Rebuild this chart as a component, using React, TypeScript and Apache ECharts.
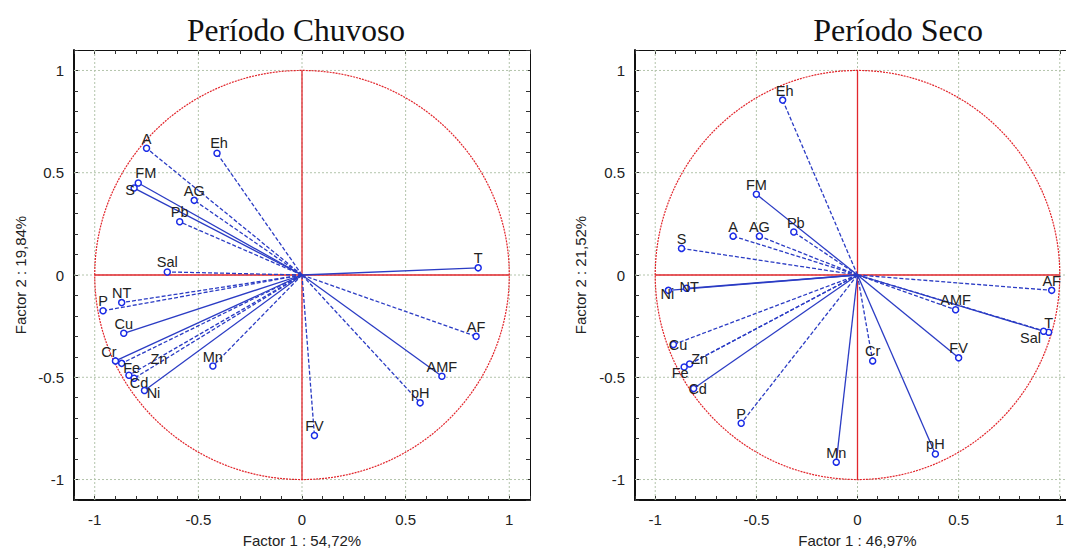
import React, { useEffect, useRef } from "react";
import * as echarts from "echarts";

// ---------- data ----------
const tickLabels = [-1, -0.5, 0, 0.5, 1];
const axisMin = -1.1;
const axisMax = 1.1;

const chuvNames = ["A", "Eh", "FM", "S", "AG", "Pb", "Sal", "NT", "P", "Cu", "Cr", "Fe", "Zn", "Cd", "Ni", "Mn", "FV", "T", "AF", "AMF", "pH"];
const chuvF1 = [-0.75, -0.41, -0.79, -0.81, -0.52, -0.59, -0.65, -0.87, -0.96, -0.86, -0.9, -0.87, -0.835, -0.81, -0.76, -0.43, 0.06, 0.85, 0.84, 0.675, 0.57];
const chuvF2 = [0.62, 0.595, 0.45, 0.425, 0.365, 0.26, 0.015, -0.135, -0.175, -0.285, -0.42, -0.432, -0.49, -0.505, -0.565, -0.445, -0.785, 0.035, -0.3, -0.495, -0.625];
const chuvDashed = [true, true, false, false, true, true, true, true, true, false, false, true, true, true, false, true, true, false, true, false, true];

const secoNames = ["Eh", "FM", "Pb", "A", "AG", "S", "NT", "Ni", "Cu", "Zn", "Fe", "Cd", "P", "Mn", "Cr", "FV", "pH", "AF", "AMF", "T", "Sal"];
const secoF1 = [-0.37, -0.5, -0.315, -0.615, -0.485, -0.87, -0.845, -0.935, -0.91, -0.83, -0.857, -0.81, -0.575, -0.105, 0.075, 0.5, 0.385, 0.96, 0.485, 0.945, 0.92];
const secoF2 = [0.855, 0.395, 0.21, 0.19, 0.19, 0.13, -0.065, -0.075, -0.34, -0.435, -0.45, -0.555, -0.725, -0.915, -0.42, -0.405, -0.875, -0.075, -0.17, -0.28, -0.275];
const secoDashed = [true, false, true, true, true, true, false, false, true, true, true, false, true, false, true, false, false, true, true, true, false];

// ---------- styles ----------
const labelDefault: [number, number] = [0, -9.5];
const chuvLabelOffset: Record<string, [number, number]> = {
  FM: [7.5, -9.5],
  S: [-4, 2],
  Cr: [-6.5, -9],
  Fe: [10, 5],
  Zn: [30, -16],
  Cd: [5, 5],
  Ni: [9, 2],
  Eh: [2, -10],
};
const secoLabelOffset: Record<string, [number, number]> = {
  Eh: [2, -9.5],
  Pb: [2, -9],
  NT: [2.5, -1],
  Ni: [-1, 4],
  Cu: [4.5, 0],
  Zn: [10, -5],
  Fe: [-4, 6],
  Cd: [4, 0],
  Sal: [-13, 7],
};

const SANS = "Liberation Sans, Arial, sans-serif";
const TEXT = "#222";
const BLUE_LINE = "#2b3cc4";
const BLUE_MARK = "#1a2be6";
const RED = "#e2262c";
const GRID = "#b3c4ab";

function App() {
  const ref = useRef<HTMLDivElement>(null);

  useEffect(() => {
    if (!ref.current) return;
    const chart = echarts.init(ref.current, undefined, { renderer: "svg" });

    const fmt = (v: number) => {
      for (const t of tickLabels) if (Math.abs(v - t) < 1e-6) return String(t);
      return "";
    };

    const makeX = (grid: number, pos: "bottom" | "top", name: string) => ({
      type: "value",
      gridIndex: grid,
      position: pos,
      min: axisMin,
      max: axisMax,
      interval: 0.1,
      name: pos === "bottom" ? name : "",
      nameLocation: "middle",
      nameGap: 33,
      nameTextStyle: { fontSize: 15, fontFamily: SANS, color: TEXT },
      axisLine: { show: true, onZero: false, lineStyle: { color: "#111", width: pos === "bottom" ? 2 : 1 } },
      axisTick: { show: true, inside: true, length: 4, lineStyle: { color: "#333" } },
      axisLabel: { show: pos === "bottom", formatter: fmt, fontSize: 15, fontFamily: SANS, color: TEXT, margin: 12 },
      splitLine: { show: false },
    });
    const makeY = (grid: number, pos: "left" | "right", name: string, gap: number) => ({
      type: "value",
      gridIndex: grid,
      position: pos,
      min: axisMin,
      max: axisMax,
      interval: 0.1,
      name: pos === "left" ? name : "",
      nameLocation: "middle",
      nameGap: gap,
      nameRotate: 90,
      nameTextStyle: { fontSize: 15, fontFamily: SANS, color: TEXT },
      axisLine: { show: true, onZero: false, lineStyle: { color: "#111", width: pos === "left" ? 2 : 1 } },
      axisTick: { show: true, inside: true, length: 4, lineStyle: { color: "#333" } },
      axisLabel: { show: pos === "left", formatter: fmt, fontSize: 15, fontFamily: SANS, color: TEXT, margin: 10 },
      splitLine: { show: false },
    });

    const gridSeries = (axis: number) => ({
      type: "custom",
      xAxisIndex: axis,
      yAxisIndex: axis,
      silent: true,
      z: 1,
      data: tickLabels.map((t) => [t, t]),
      renderItem: (_p: any, api: any) => {
        const v = api.value(0);
        const a = api.coord([v, axisMin]);
        const b = api.coord([v, axisMax]);
        const c = api.coord([axisMin, v]);
        const d = api.coord([axisMax, v]);
        const st = { stroke: GRID, lineWidth: 1, lineDash: [2, 2], fill: null };
        return {
          type: "group",
          children: [
            { type: "line", shape: { x1: a[0], y1: a[1], x2: b[0], y2: b[1] }, style: st },
            { type: "line", shape: { x1: c[0], y1: c[1], x2: d[0], y2: d[1] }, style: st },
          ],
        };
      },
    });

    const circleSeries = (axis: number) => ({
      type: "custom",
      xAxisIndex: axis,
      yAxisIndex: axis,
      silent: true,
      z: 2,
      data: [[0, 0]],
      renderItem: (_p: any, api: any) => {
        const o = api.coord([0, 0]);
        const l = api.coord([-1, 0]);
        const r = api.coord([1, 0]);
        const t = api.coord([0, 1]);
        const b = api.coord([0, -1]);
        return {
          type: "group",
          children: [
            {
              type: "ellipse",
              shape: { cx: o[0], cy: o[1], rx: (r[0] - l[0]) / 2, ry: (b[1] - t[1]) / 2 },
              style: { fill: null, stroke: RED, lineWidth: 1.2, lineDash: [2, 1] },
            },
            { type: "line", shape: { x1: l[0], y1: l[1], x2: r[0], y2: r[1] }, style: { stroke: RED, lineWidth: 1.3 } },
            { type: "line", shape: { x1: t[0], y1: t[1], x2: b[0], y2: b[1] }, style: { stroke: RED, lineWidth: 1.3 } },
          ],
        };
      },
    });

    const vectorLines = (axis: number, f1: number[], f2: number[], dashed: boolean[]) => ({
      type: "custom",
      xAxisIndex: axis,
      yAxisIndex: axis,
      silent: true,
      z: 3,
      encode: { x: 0, y: 1 },
      data: f1.map((x, i) => [x, f2[i], i]),
      renderItem: (_p: any, api: any) => {
        const o = api.coord([0, 0]);
        const p = api.coord([api.value(0), api.value(1)]);
        const i = api.value(2);
        return {
          type: "line",
          shape: { x1: o[0], y1: o[1], x2: p[0], y2: p[1] },
          style: { stroke: BLUE_LINE, lineWidth: 1.3, lineDash: dashed[i] ? [4, 2] : null, fill: null },
        };
      },
    });

    const vectorMarks = (axis: number, f1: number[], f2: number[], names: string[], offs: Record<string, [number, number]>) => ({
      type: "custom",
      xAxisIndex: axis,
      yAxisIndex: axis,
      silent: true,
      z: 4,
      encode: { x: 0, y: 1 },
      data: f1.map((x, i) => [x, f2[i], i]),
      renderItem: (_p: any, api: any) => {
        const p = api.coord([api.value(0), api.value(1)]);
        const name = names[api.value(2)];
        const off = offs[name] || labelDefault;
        return {
          type: "group",
          children: [
            {
              type: "circle",
              shape: { cx: p[0], cy: p[1], r: 3 },
              style: { fill: "#fff", stroke: BLUE_MARK, lineWidth: 1.5 },
            },
            {
              type: "text",
              x: p[0] + off[0],
              y: p[1] + off[1],
              style: {
                text: name,
                fontSize: 14.5,
                fontFamily: SANS,
                fill: TEXT,
                textAlign: "center",
                textVerticalAlign: "middle",
                align: "center",
                verticalAlign: "middle",
              },
            },
          ],
        };
      },
    });

    chart.setOption({
      animation: false,
      backgroundColor: "#ffffff",
      grid: [
        { left: 74, top: 50, width: 456, height: 450, containLabel: false, outerBoundsMode: "none" },
        { left: 635, top: 50, width: 445, height: 450, containLabel: false, outerBoundsMode: "none" },
      ],
      xAxis: [
        makeX(0, "bottom", "Factor 1 : 54,72%"),
        makeX(0, "top", ""),
        makeX(1, "bottom", "Factor 1 : 46,97%"),
        makeX(1, "top", ""),
      ],
      yAxis: [
        makeY(0, "left", "Factor 2 : 19,84%", 46),
        makeY(0, "right", "", 46),
        makeY(1, "left", "Factor 2 : 21,52%", 47),
        makeY(1, "right", "", 47),
      ],
      graphic: [
        {
          type: "text",
          x: 296,
          y: 30,
          style: {
            text: "Período Chuvoso",
            font: "31.5px 'Liberation Serif', 'Times New Roman', serif",
            fill: "#111",
            textAlign: "center",
            textVerticalAlign: "middle",
          },
        },
        {
          type: "text",
          x: 898,
          y: 30,
          style: {
            text: "Período Seco",
            font: "32px 'Liberation Serif', 'Times New Roman', serif",
            fill: "#111",
            textAlign: "center",
            textVerticalAlign: "middle",
          },
        },
      ],
      series: [
        gridSeries(0),
        circleSeries(0),
        vectorLines(0, chuvF1, chuvF2, chuvDashed),
        vectorMarks(0, chuvF1, chuvF2, chuvNames, chuvLabelOffset),
        gridSeries(2),
        circleSeries(2),
        vectorLines(2, secoF1, secoF2, secoDashed),
        vectorMarks(2, secoF1, secoF2, secoNames, secoLabelOffset),
      ],
    });

    return () => chart.dispose();
  }, []);

  return (
    <div
      ref={ref}
      style={{ position: "fixed", left: 0, top: 0, width: 1066, height: 549, background: "#fff" }}
    />
  );
}

export default App;
